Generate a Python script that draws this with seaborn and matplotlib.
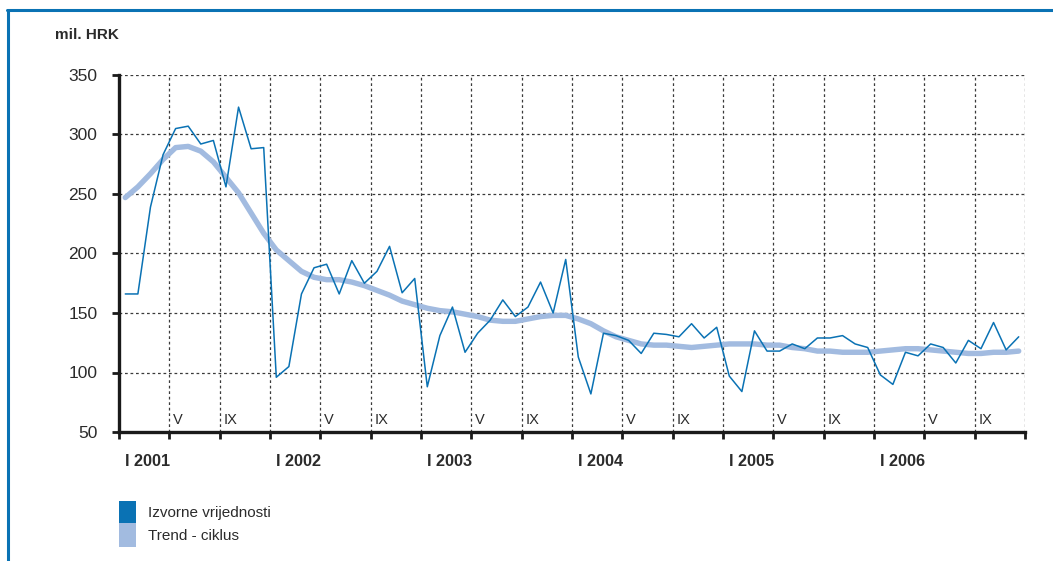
import numpy as np
import pandas as pd
import matplotlib
matplotlib.use("Agg")
import matplotlib.pyplot as plt
import matplotlib.transforms as mtransforms
from matplotlib.patches import Rectangle
from matplotlib.lines import Line2D
import seaborn as sns

# ---------------- data ----------------
years = [2001, 2002, 2003, 2004, 2005, 2006]
year_labels = ["I 2001", "I 2002", "I 2003", "I 2004", "I 2005", "I 2006"]
inner_labels = ["V", "IX"]
izvorne = [166, 166, 239, 283, 305, 307, 292, 295, 256, 323, 288, 289,
           96, 105, 166, 188, 191, 166, 194, 175, 185, 206, 167, 179,
           88, 131, 155, 117, 133, 144, 161, 147, 155, 176, 150, 195,
           113, 82, 133, 131, 127, 116, 133, 132, 130, 141, 129, 138,
           97, 84, 135, 118, 118, 124, 120, 129, 129, 131, 124, 121,
           98, 90, 117, 114, 124, 121, 108, 127, 120, 142, 119, 130]
trend = [247, 256, 267, 279, 289, 290, 286, 277, 264, 251, 234, 217,
         203, 194, 185, 180, 178, 178, 176, 173, 169, 165, 160, 157,
         154, 152, 151, 149, 147, 144, 143, 143, 145, 147, 148, 148,
         145, 141, 135, 130, 127, 124, 123, 123, 122, 121, 122, 123,
         124, 124, 124, 123, 123, 121, 120, 118, 118, 117, 117, 117,
         118, 119, 120, 120, 119, 118, 117, 116, 116, 117, 117, 118]
series_names = ["Izvorne vrijednosti", "Trend - ciklus"]
y_ticks = [50, 100, 150, 200, 250, 300, 350]

n = len(izvorne)
month_pos = np.arange(n) + 0.5
df = pd.DataFrame({
    "mjesec": np.concatenate([month_pos, month_pos]),
    "vrijednost": izvorne + trend,
    "serija": [series_names[0]] * n + [series_names[1]] * n,
})

# ---------------- style ----------------
sns.set_style("white")
plt.rcParams["font.family"] = ["Liberation Sans", "DejaVu Sans"]

C_RAW = "#0a72b4"
C_TREND = "#a2bbe0"
TXT = "#2b2b2b"

W, H = 1053, 561
fig = plt.figure(figsize=(W / 100, H / 100), dpi=100)
ax = fig.add_axes([119 / W, 1 - 432 / H, (1025 - 119) / W, (432 - 75) / H])

sns.lineplot(data=df[df.serija == series_names[1]], x="mjesec", y="vrijednost",
             color=C_TREND, linewidth=3.9, ax=ax, legend=False, zorder=3)
sns.lineplot(data=df[df.serija == series_names[0]], x="mjesec", y="vrijednost",
             color=C_RAW, linewidth=1.1, ax=ax, legend=False, zorder=4)

ax.set_xlim(0, n)
ax.set_ylim(50, 350)
ax.set_xlabel("")
ax.set_ylabel("")

ax.set_yticks(y_ticks)
ax.set_yticklabels([str(v) for v in y_ticks], fontsize=12.5, color=TXT)
ax.set_xticks(np.arange(0, n + 1, 4))
ax.set_xticklabels([])

ax.tick_params(axis="both", which="major", direction="out", length=5, width=2,
               color="#1a1a1a", left=True, bottom=True)
ax.tick_params(axis="y", pad=10.5)

# grid
ax.grid(True, which="major", color="#3a3a3a", linestyle=(0, (2.2, 2.2)), linewidth=0.9)
ax.set_axisbelow(True)

for side in ["top", "right"]:
    ax.spines[side].set_visible(False)
for side in ["left", "bottom"]:
    ax.spines[side].set_color("#1a1a1a")
    ax.spines[side].set_linewidth(2.4)

# year labels below the axis
trans = mtransforms.blended_transform_factory(ax.transData, ax.transAxes)
for i, lab in enumerate(year_labels):
    ax.text(i * 12 + 0.45, -0.084, lab, transform=trans, ha="left", va="center",
            fontsize=11.7, fontweight="bold", color=TXT)
    for k, ilab in enumerate(inner_labels):
        ax.text(i * 12 + 4 * (k + 1) + 0.3, 0.034, ilab, transform=trans,
                ha="left", va="center", fontsize=10.5, color=TXT)

# unit label
fig.text(55 / W, 1 - 35 / H, "mil. HRK", ha="left", va="center",
         fontsize=11, fontweight="bold", color=TXT)

# legend (drawn as swatches + labels in figure pixels)
swatches = [(C_RAW, 501, 523, 512.5), (C_TREND, 523, 547, 535.5)]
for (col, y0, y1, yc), name in zip(swatches, series_names):
    fig.add_artist(Rectangle((119 / W, 1 - y1 / H), 17 / W, (y1 - y0) / H,
                             facecolor=col, edgecolor="none",
                             transform=fig.transFigure))
    fig.text(148 / W, 1 - yc / H, name, ha="left", va="center",
             fontsize=11, color=TXT)

# outer frame (top and left edges)
fig.add_artist(Line2D([7 / W, 1.0], [1 - 9.5 / H, 1 - 9.5 / H], color="#0a72b4",
                      linewidth=2.2, transform=fig.transFigure))
fig.add_artist(Line2D([8 / W, 8 / W], [0, 1 - 9.5 / H], color="#0a72b4",
                      linewidth=2.2, transform=fig.transFigure))

fig.savefig("out.png", dpi=100)
